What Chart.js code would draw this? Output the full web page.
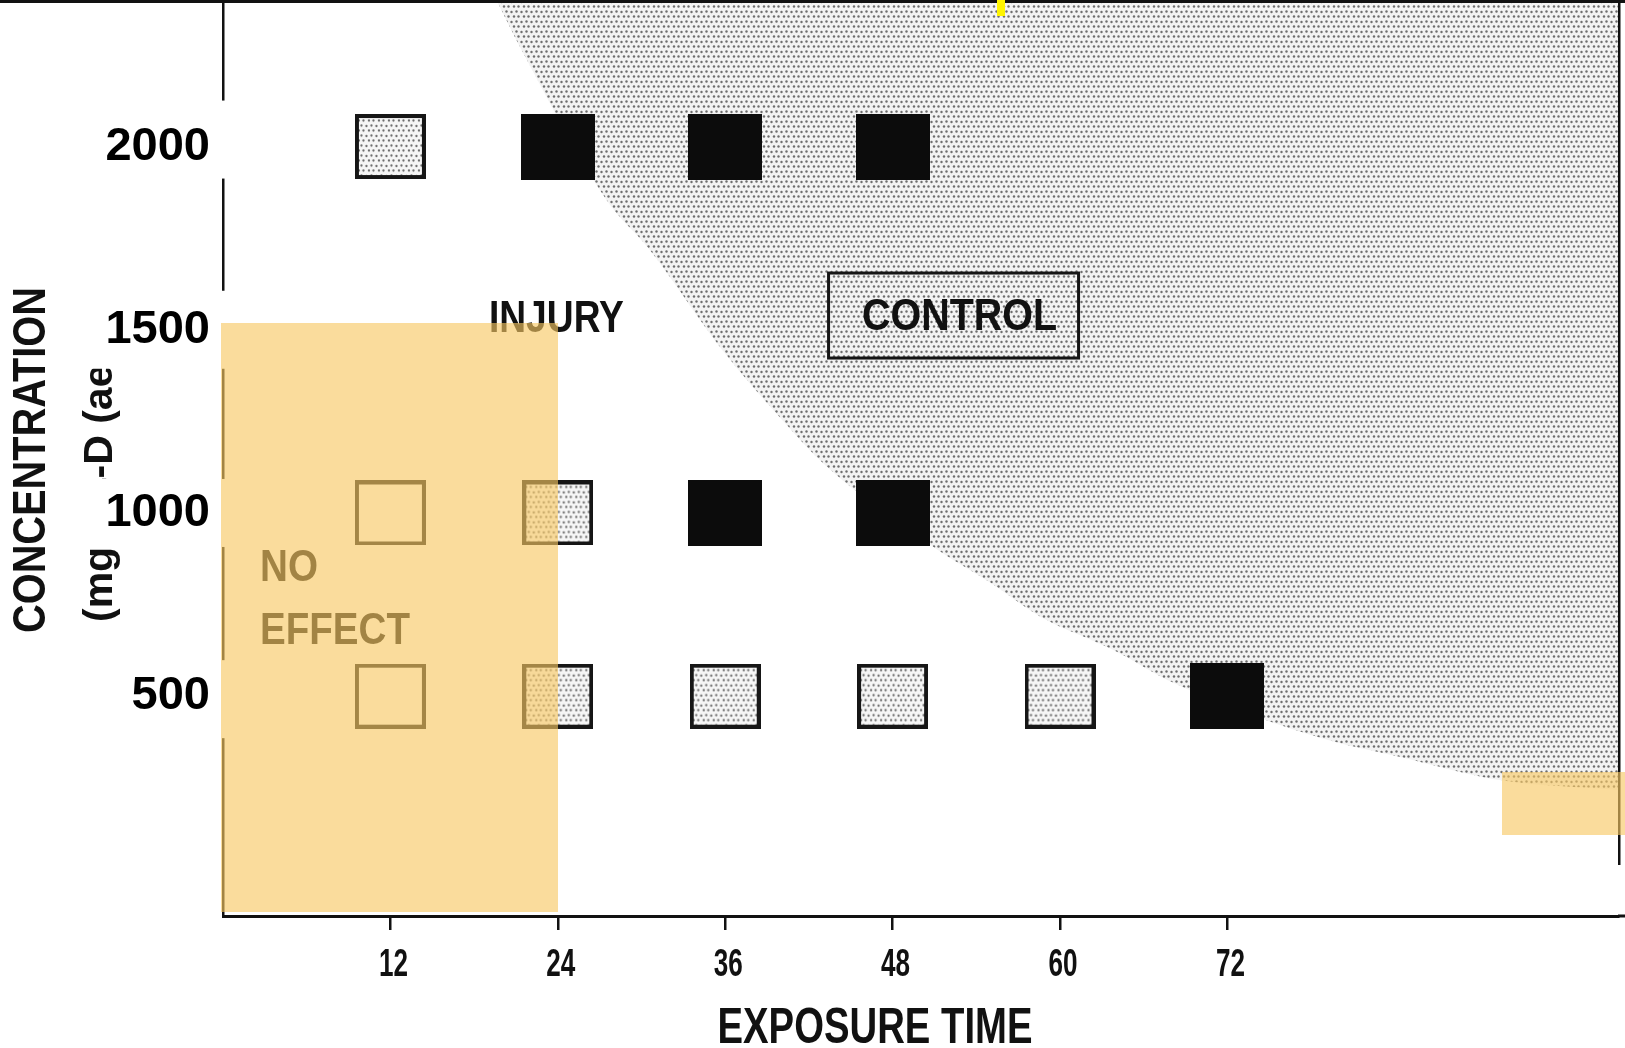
<!DOCTYPE html>
<html>
<head>
<meta charset="utf-8">
<script src="https://cdn.jsdelivr.net/npm/chart.js@4.4.1/dist/chart.umd.min.js"></script>
<style>
  html, body { margin: 0; padding: 0; background: #fff; }
  #c { display: block; }
</style>
</head>
<body>
<canvas id="c" width="1625" height="1048"></canvas>
<script>
// tick values
const xTicks = [12, 24, 36, 48, 60, 72];
const yTicks = [500, 1000, 1500, 2000];

// open squares (no effect)
const noEffectTime = [12, 12];
const noEffectConc = [1000, 500];
// dotted squares (injury)
const injuryTime = [12, 24, 24, 36, 48, 60];
const injuryConc = [2000, 1000, 500, 500, 500, 500];
// black squares (control)
const controlTime = [24, 36, 48, 36, 48, 72];
const controlConc = [2000, 2000, 2000, 1000, 1000, 500];

// edge of the shaded zone
const edgeTime = [19.6, 21.4, 27.5, 30.6, 35.8, 39.9, 43.3, 51.2, 55.0, 58.6, 63.8, 68.1, 74.1, 79.3, 84.4, 91.5, 100];
const edgeConc = [2400, 2264, 1854, 1718, 1445, 1262, 1126, 900, 810, 717, 627, 537, 444, 380, 334, 271, 244];

const pts = (xs, ys) => xs.map((x, i) => ({ x: x, y: ys[i] }));

// little halftone tile for the grey areas
function stipple(bg, ink, r) {
    const t = document.createElement('canvas');
    t.width = 10; t.height = 10;
    const g = t.getContext('2d');
    g.fillStyle = bg; g.fillRect(0, 0, 10, 10);
    g.fillStyle = ink;
    [[1.5, 2], [6.5, 1.5], [4, 6.5], [8.5, 6.5]].forEach(p => {
        g.beginPath(); g.arc(p[0], p[1], r, 0, Math.PI * 2); g.fill();
    });
    return t;
}

function makeSquare(w, h, fill, edge) {
    const c = document.createElement('canvas');
    c.width = w; c.height = h;
    const g = c.getContext('2d');
    g.fillStyle = fill instanceof HTMLCanvasElement ? g.createPattern(fill, 'repeat') : fill;
    g.fillRect(0, 0, w, h);
    if (edge) {
        g.strokeStyle = '#161616';
        g.lineWidth = edge;
        g.strokeRect(edge / 2, edge / 2, w - edge, h - edge);
    }
    return c;
}

// squeeze text horizontally to a given width
function squeeze(g, text, x, y, font, width, align) {
    g.save();
    g.font = font;
    const s = width / g.measureText(text).width;
    g.translate(x, y);
    g.scale(s, 1);
    g.textAlign = align || 'center';
    g.textBaseline = 'middle';
    g.fillText(text, 0, 0);
    g.restore();
}

const canvas = document.getElementById('c');
const ctx = canvas.getContext('2d');
const shade = ctx.createPattern(stipple('#f3f3f3', '#6e6e6e', 1.2), 'repeat');

const squareOpen = makeSquare(71, 65, '#ffffff', 4);
const squareDot = makeSquare(71, 65, stipple('#f6f6f6', '#6a6a6a', 1.15), 4);
const squareSolid = makeSquare(74, 66, '#0c0c0c', 0);

// white paper patches behind the pasted tick numbers: [shift, half height]
const patch = { 500: [3, 39], 1000: [0, 34], 1500: [0, 39], 2000: [-7, 39] };

const paper = {
    id: 'paper',
    beforeDraw(chart) {
        const g = chart.ctx;
        const a = chart.chartArea;
        g.save();
        g.fillStyle = '#fff';
        g.fillRect(0, 0, chart.width, chart.height);
        g.fillStyle = '#111';
        // y title, first line
        g.translate(32, (a.top + a.bottom) / 2 + 2);
        g.rotate(-Math.PI / 2);
        squeeze(g, 'CONCENTRATION', 0, 0, 'bold 46px "Liberation Sans"', 346);
        g.restore();
        // y title, second line (partly hidden by the tick patches)
        g.save();
        g.fillStyle = '#111';
        g.translate(112, 622);
        g.rotate(-Math.PI / 2);
        g.font = 'bold 41px "Liberation Sans"';
        g.textAlign = 'left';
        g.textBaseline = 'alphabetic';
        g.fillText('(mg 2,4-D (ae)/L)', 0, 0);
        g.restore();
    },
    beforeDatasetsDraw(chart) {
        const g = chart.ctx;
        const ys = chart.scales.y;
        g.save();
        g.fillStyle = '#fff';
        yTicks.forEach(v => {
            const py = ys.getPixelForValue(v) + patch[v][0];
            g.fillRect(62, py - patch[v][1], 164, patch[v][1] * 2);
        });
        g.restore();
    },
    afterDatasetsDraw(chart) {
        const g = chart.ctx;
        const xs = chart.scales.x, ys = chart.scales.y;
        const font = 'bold 44px "Liberation Sans"';
        g.save();
        g.fillStyle = '#111';
        squeeze(g, 'INJURY', xs.getPixelForValue(23.9), ys.getPixelForValue(1527), font, 135);
        squeeze(g, 'NO', xs.getPixelForValue(2.65), ys.getPixelForValue(847), font, 58, 'left');
        squeeze(g, 'EFFECT', xs.getPixelForValue(2.65), ys.getPixelForValue(676), font, 150, 'left');
        const cx = xs.getPixelForValue(52.8), cy = ys.getPixelForValue(1532);
        squeeze(g, 'CONTROL', cx, cy, font, 195);
        g.strokeStyle = '#161616';
        g.lineWidth = 3;
        g.strokeRect(cx - 131, cy - 45, 250, 85);
        // x tick numbers, narrow type as in the scan
        xTicks.forEach(v => {
            squeeze(g, String(v), xs.getPixelForValue(v) + 3, 965, 'bold 39px "Liberation Sans"', 29);
        });
        // x title
        squeeze(g, 'EXPOSURE TIME', 875, 1029, 'bold 50px "Liberation Sans"', 315);
        g.restore();
    },
    afterDraw(chart) {
        const g = chart.ctx;
        const a = chart.chartArea;
        g.save();
        // frame bits of the scan
        g.fillStyle = '#111';
        g.fillRect(0, 0, chart.width, 3);
        g.fillRect(a.right, 0, 2.5, 865);
        g.fillRect(a.right, a.bottom - 1.5, chart.width - a.right, 3);
        // highlighter marks
        g.fillStyle = 'rgba(247, 199, 98, 0.63)';
        g.fillRect(221, 323, 337, 589);
        g.fillRect(1502, 772, 123, 63);
        g.fillStyle = '#fff500';
        g.fillRect(997, 0, 8, 16);
        g.restore();
    }
};

new Chart(ctx, {
    type: 'scatter',
    data: {
        datasets: [
            {
                type: 'line',
                label: 'Control zone',
                data: pts(edgeTime, edgeConc),
                fill: 'end',
                backgroundColor: shade,
                borderWidth: 0,
                pointRadius: 0,
                cubicInterpolationMode: 'monotone',
                order: 10
            },
            { label: 'No effect', data: pts(noEffectTime, noEffectConc), pointStyle: squareOpen, pointRadius: 30, order: 1 },
            { label: 'Injury', data: pts(injuryTime, injuryConc), pointStyle: squareDot, pointRadius: 30, order: 1 },
            { label: 'Control', data: pts(controlTime, controlConc), pointStyle: squareSolid, pointRadius: 30, order: 1 }
        ]
    },
    options: {
        responsive: false,
        animation: false,
        devicePixelRatio: 1,
        layout: { autoPadding: false, padding: { left: 0, right: 7, top: 0, bottom: 0 } },
        plugins: { legend: { display: false }, tooltip: { enabled: false } },
        scales: {
            x: {
                type: 'linear',
                min: 0,
                max: 100,
                afterBuildTicks: s => { s.ticks = xTicks.map(v => ({ value: v })); },
                afterFit: s => { s.height = 132; s.paddingLeft = 0; s.paddingRight = 0; },
                grid: { drawOnChartArea: false, drawTicks: true, tickLength: 14, color: '#111', lineWidth: 2.5 },
                border: { display: true, color: '#111', width: 3 },
                ticks: { display: false }
            },
            y: {
                type: 'linear',
                min: -100,
                max: 2400,
                afterBuildTicks: s => { s.ticks = yTicks.map(v => ({ value: v })); },
                afterFit: s => { s.width = 223; s.paddingTop = 0; s.paddingBottom = 0; },
                grid: { display: false, drawTicks: false },
                border: { display: true, color: '#111', width: 2.5 },
                ticks: {
                    z: 1,
                    padding: 13,
                    color: '#000',
                    callback: v => String(v),
                    font: { family: '"Liberation Sans", sans-serif', size: 47, weight: 'bold' }
                }
            }
        }
    },
    plugins: [paper]
});
</script>
</body>
</html>
